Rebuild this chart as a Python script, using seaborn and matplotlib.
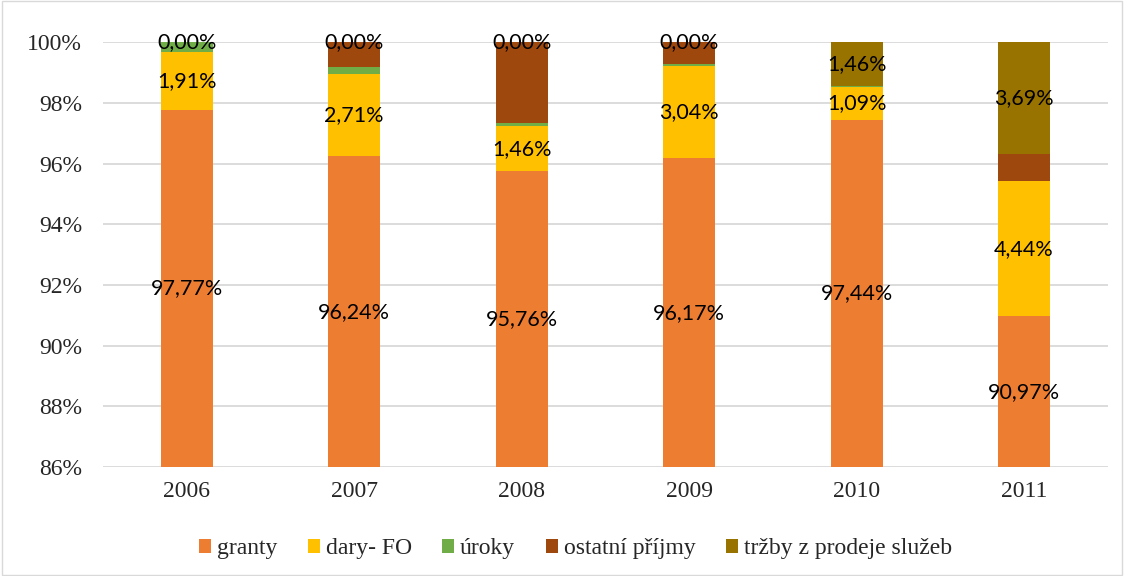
import numpy as np
import pandas as pd
import matplotlib
matplotlib.use('Agg')
import matplotlib.pyplot as plt
from matplotlib.patches import Patch, Rectangle
import seaborn as sns

## --- dados (% por ano)
roky = ['2006', '2007', '2008', '2009', '2010', '2011']
granty = [97.77, 96.24, 95.76, 96.17, 97.44, 90.97]
dary_fo = [1.91, 2.71, 1.46, 3.04, 1.09, 4.44]
uroky = [0.32, 0.22, 0.10, 0.06, 0.01, 0.02]
ostatni = [0.00, 0.83, 2.68, 0.73, 0.00, 0.88]
trzby = [0.00, 0.00, 0.00, 0.00, 1.46, 3.69]

serie = ['granty', 'dary- FO', 'úroky', 'ostatní příjmy', 'tržby z prodeje služeb']
barvy = ['#ED7D31', '#FFC000', '#70AD47', '#9E480E', '#997300']

dados = pd.DataFrame({
    'rok': roky,
    'granty': granty,
    'dary- FO': dary_fo,
    'úroky': uroky,
    'ostatní příjmy': ostatni,
    'tržby z prodeje služeb': trzby,
})

# somas acumuladas para empilhar (desenha do topo para baixo)
acumulado = dados[serie].cumsum(axis=1)
acumulado['rok'] = dados['rok']

sns.set_theme(style='white')
fig = plt.figure(figsize=(11.24, 5.76), dpi=100)
ax = fig.add_axes([0.0916, 0.189, 0.894, 0.738])

for nome, cor in reversed(list(zip(serie, barvy))):
    sns.barplot(data=acumulado, x='rok', y=nome, color=cor, width=0.31,
                saturation=1, ax=ax, linewidth=0)

ax.set_ylim(86, 100)
ax.set_yticks(np.arange(86, 101, 2))
ax.set_yticklabels([f'{v}%' for v in range(86, 101, 2)], family='Liberation Serif', fontsize=17)
ax.set_xticks(range(len(roky)))
ax.set_xticklabels(roky, family='Liberation Serif', fontsize=17)
ax.set_xlabel('')
ax.set_ylabel('')
ax.tick_params(axis='y', length=0, pad=15)
ax.tick_params(axis='x', length=0, pad=10)
ax.yaxis.grid(True, color='#D9D9D9', linewidth=1.3)
ax.set_axisbelow(True)
for s in ax.spines.values():
    s.set_visible(False)

# rotulos de dados: granty, dary- FO, trzby
def fmt(v):
    return f'{v:.2f}%'.replace('.', ',')

for i in range(len(roky)):
    base_g = granty[i]
    ax.text(i, (86 + base_g) / 2, fmt(granty[i]), ha='center', va='center',
            family='Lato', fontsize=15.5, color='black')
    ax.text(i, base_g + dary_fo[i] / 2, fmt(dary_fo[i]), ha='center', va='center',
            family='Lato', fontsize=15.5, color='black')
    topo = 100 - trzby[i]
    ax.text(i, topo + trzby[i] / 2, fmt(trzby[i]), ha='center', va='center',
            family='Lato', fontsize=15.5, color='black')

handles = [Patch(facecolor=c, edgecolor='none', label=n) for n, c in zip(serie, barvy)]
fig.legend(handles=handles, loc='center', bbox_to_anchor=(0.512, 0.047), ncol=5,
           frameon=False, handlelength=0.5, handleheight=0.5, handletextpad=0.25,
           columnspacing=1.3, prop={'family': 'Liberation Serif', 'size': 17})

# borda do grafico
fig.patches.append(Rectangle((0.002, 0.002), 0.996, 0.996, transform=fig.transFigure,
                             fill=False, edgecolor='#D9D9D9', linewidth=1))

fig.savefig('out.png', dpi=100)
